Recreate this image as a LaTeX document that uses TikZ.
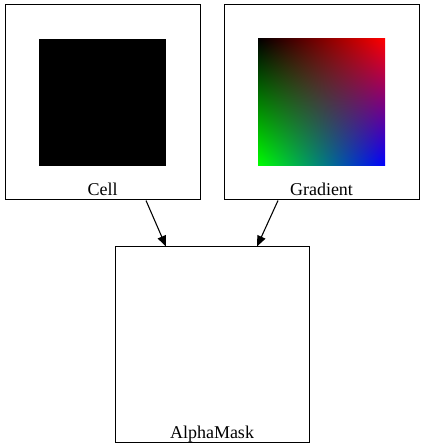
\documentclass[tikz,border=0pt]{standalone}
\usepackage{fontspec}
\setmainfont{Liberation Serif}
\usetikzlibrary{arrows.meta,calc}

\pgfdeclarefunctionalshading{rgbcorners}{\pgfpoint{-50bp}{-50bp}}{\pgfpoint{50bp}{50bp}}{}{
  25 add 50 div exch 25 add 50 div exch
  2 copy mul 3 1 roll
  1 exch sub 2 copy mul 3 1 roll
  exch 1 exch sub mul exch
}

\tikzset{
  imgbox/.style = {draw, line width=0.75pt, minimum width=146.25pt, minimum height=146.25pt, inner sep=0pt},
  lbl/.style    = {anchor=base, inner sep=0pt, font=\fontsize{13.5}{16}\selectfont},
  arr/.style    = {line width=0.8pt, -{Triangle[length=8pt, width=6.5pt]}}
}

\begin{document}
\begin{tikzpicture}[x=0.75pt, y=-0.75pt]
  \useasboundingbox (0,0) rectangle (424,448);

  \node[imgbox] (cell)      at (102.5,102.5) {};
  \node[imgbox] (gradient)  at (321.5,102.5) {};
  \node[imgbox, minimum width=145.5pt] (alphamask) at (212,344.5) {};

  % pictures inside the boxes
  \fill[black] (39,39) rectangle (166,166);
  \shade[shading=rgbcorners] (258,39) rectangle (385,166);

  \node[lbl] (celllbl)  at (102.5,195.5) {Cell};
  \node[lbl] (gradlbl)  at (321.5,195.5) {Gradient};
  \node[lbl] (masklbl)  at (212,438)     {AlphaMask};

  \draw[arr] ($(cell.south)+(43.5,0)$)     -- ($(alphamask.north)+(-46,0)$);
  \draw[arr] ($(gradient.south)+(-43.5,0)$) -- ($(alphamask.north)+(45,0)$);
\end{tikzpicture}
\end{document}
